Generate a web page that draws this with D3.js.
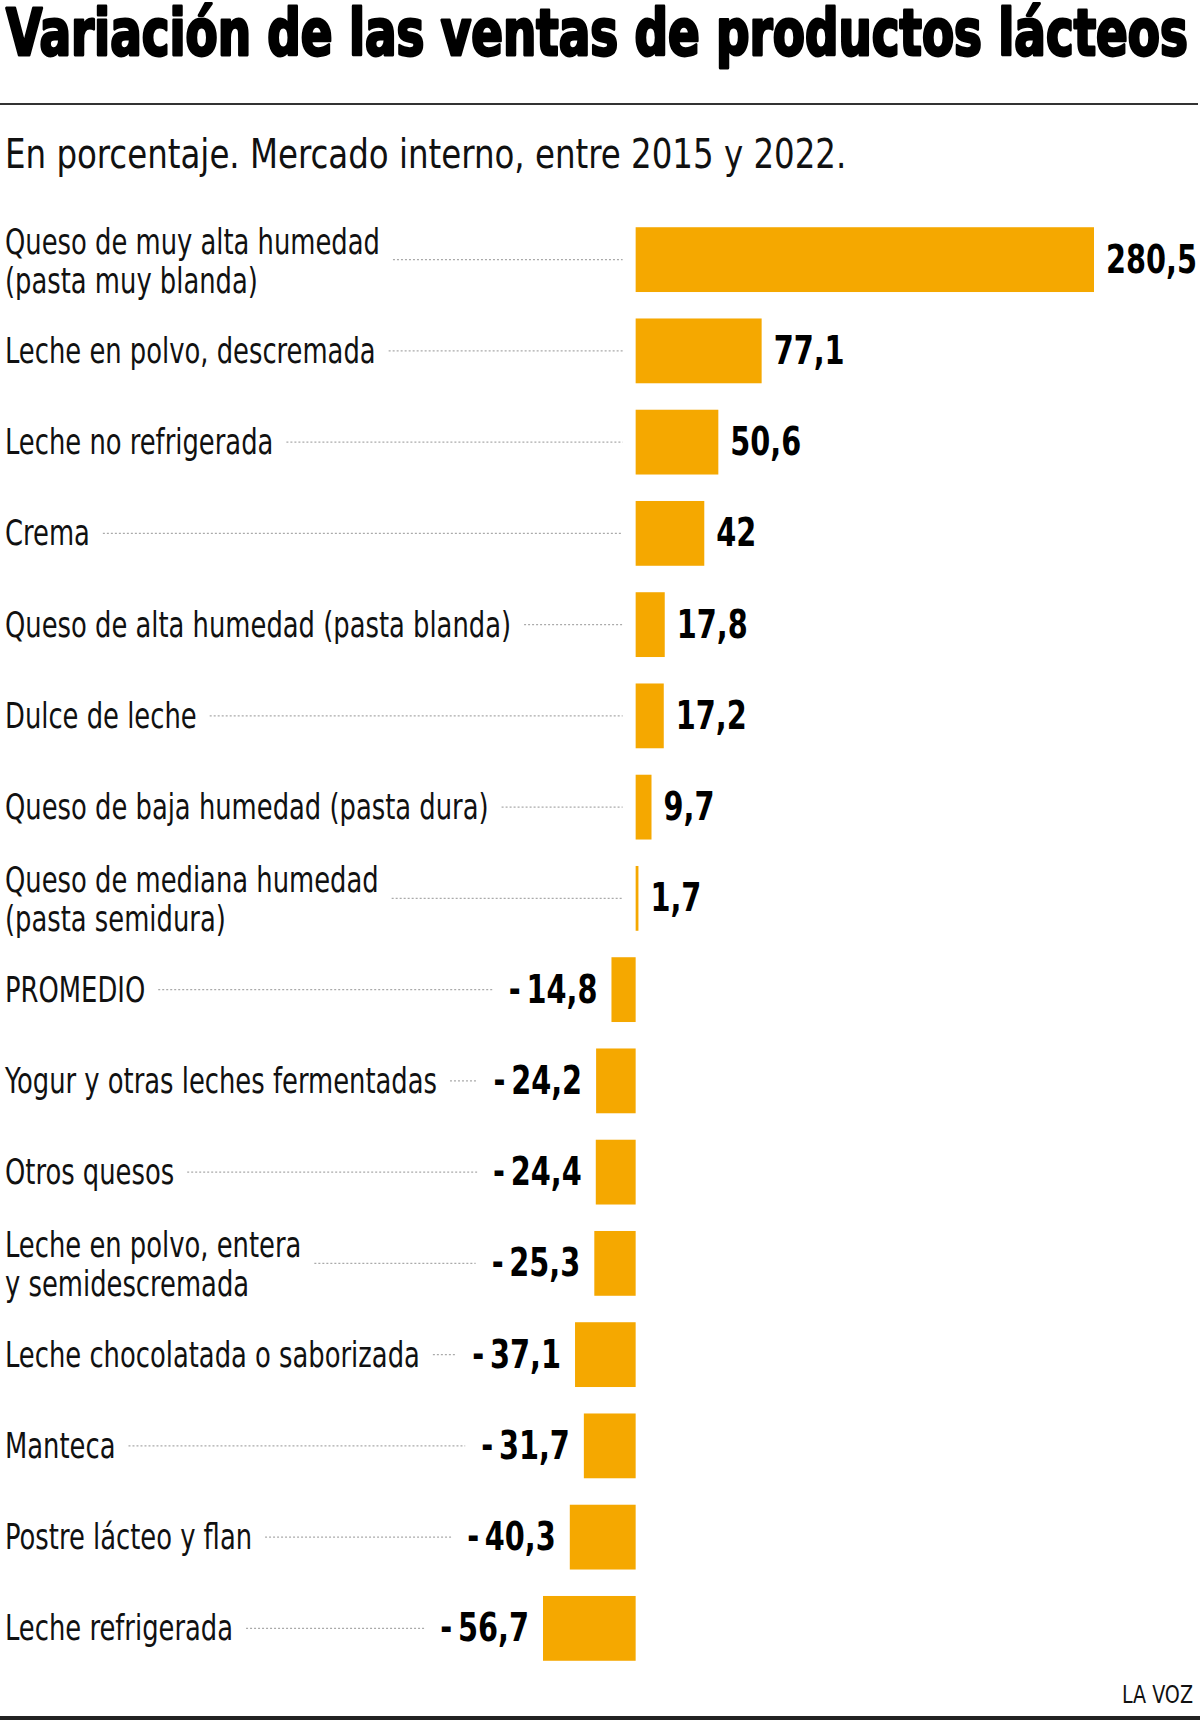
<!DOCTYPE html>
<html>
<head>
<meta charset="utf-8">
<script src="https://cdn.jsdelivr.net/npm/d3@7/dist/d3.min.js"></script>
<style>
	body { margin: 0; background: #fff; }
	svg { display: block; }
</style>
</head>
<body>
<svg id="chart" width="1200" height="1720"></svg>
<script>
'use strict'

const titleText = 'Variación de las ventas de productos lácteos'
const subtitleText = 'En porcentaje. Mercado interno, entre 2015 y 2022.'
const sourceText = 'LA VOZ'

const categories = [
	['Queso de muy alta humedad', '(pasta muy blanda)'],
	['Leche en polvo, descremada'],
	['Leche no refrigerada'],
	['Crema'],
	['Queso de alta humedad (pasta blanda)'],
	['Dulce de leche'],
	['Queso de baja humedad (pasta dura)'],
	['Queso de mediana humedad', '(pasta semidura)'],
	['PROMEDIO'],
	['Yogur y otras leches fermentadas'],
	['Otros quesos'],
	['Leche en polvo, entera', 'y semidescremada'],
	['Leche chocolatada o saborizada'],
	['Manteca'],
	['Postre lácteo y flan'],
	['Leche refrigerada']
]
const values = [280.5, 77.1, 50.6, 42, 17.8, 17.2, 9.7, 1.7, -14.8, -24.2, -24.4, -25.3, -37.1, -31.7, -40.3, -56.7]

// no narrow font installed: squeeze the condensed one horizontally
const FONT = "'Liberation Sans Narrow', 'DejaVu Sans Condensed', 'Noto Sans', sans-serif"
const ORANGE = '#f5a800'
const LABEL_SX = 0.82
const VALUE_SX = 0.82
const TITLE_WIDTH = 1182

const svg = d3.select('#chart')

const x = d3.scaleLinear()
	.domain(d3.extent(values))
	.range([543, 1094])

const y = d3.scaleBand()
	.domain(d3.range(values.length))
	.range([214, 1674])
	.paddingInner(0.29)
	.paddingOuter(0.145)

function fmt(v) {
	let s = String(Math.abs(v)).replace('.', ',')
	return v < 0 ? '-\u2009' + s : s
}

function squeezed(parent, tx, ty, sx) {
	return parent.append('text')
		.attr('transform', 'translate(' + tx + ',' + ty + ') scale(' + sx + ',1)')
		.attr('font-family', FONT)
}

function drawHeader() {
	let title = squeezed(svg, 6, 55, 1)
		.attr('font-size', 64)
		.attr('font-weight', 700)
		.attr('stroke', '#000')
		.attr('stroke-width', 2.8)
		.attr('stroke-linejoin', 'round')
		.text(titleText)
	let tw = title.node().getComputedTextLength()
	title.attr('transform', 'translate(6,55) scale(' + (TITLE_WIDTH / tw) + ',1)')

	svg.append('line')
		.attr('x1', 0).attr('x2', 1198)
		.attr('y1', 104).attr('y2', 104)
		.attr('stroke', '#333')
		.attr('stroke-width', 2)

	squeezed(svg, 5, 168, 0.88)
		.attr('font-size', 41)
		.attr('fill', '#111')
		.text(subtitleText)
}

function drawRows() {
	let rows = svg.append('g').attr('class', 'rows')
		.selectAll('g')
		.data(values)
		.join('g')
		.attr('class', 'row')

	rows.append('rect')
		.attr('x', d => x(Math.min(0, d)))
		.attr('y', (d, i) => y(i))
		.attr('width', d => Math.max(2, Math.abs(x(d) - x(0))))
		.attr('height', y.bandwidth())
		.attr('fill', ORANGE)

	rows.each(function(d, i) {
		let row = d3.select(this)
		let cy = y(i) + y.bandwidth() / 2
		let lines = categories[i]
		let label = squeezed(row, 5, cy, LABEL_SX)
			.attr('font-size', 35)
			.attr('fill', '#111')
		lines.forEach(function(line, k) {
			label.append('tspan')
				.attr('x', 0)
				.attr('y', lines.length > 1 ? -6 + k * 39 : 12)
				.text(line)
		})
		let labelWidth = LABEL_SX * d3.max(label.selectAll('tspan').nodes(), n => n.getComputedTextLength())

		let vx = d >= 0 ? x(d) + 12 : x(d) - 14
		let val = squeezed(row, vx, cy + 13, VALUE_SX)
			.attr('font-size', 39)
			.attr('font-weight', 700)
			.attr('fill', '#000')
			.attr('text-anchor', d >= 0 ? 'start' : 'end')
			.text(fmt(d))
		let valWidth = VALUE_SX * val.node().getComputedTextLength()

		let dotStart = 5 + labelWidth + 13
		let dotEnd = d >= 0 ? x(0) - 13 : vx - valWidth - 16
		row.append('line')
			.attr('x1', dotStart).attr('x2', dotEnd)
			.attr('y1', cy).attr('y2', cy)
			.attr('stroke', '#aaa')
			.attr('stroke-width', 1.2)
			.attr('stroke-dasharray', '2,2')
	})
}

function drawFooter() {
	squeezed(svg, 1193, 1703, 0.85)
		.attr('text-anchor', 'end')
		.attr('font-size', 25)
		.attr('fill', '#111')
		.text(sourceText)

	svg.append('line')
		.attr('x1', 0).attr('x2', 1200)
		.attr('y1', 1718).attr('y2', 1718)
		.attr('stroke', '#222')
		.attr('stroke-width', 4)
}

drawHeader()
drawRows()
drawFooter()
</script>
</body>
</html>
